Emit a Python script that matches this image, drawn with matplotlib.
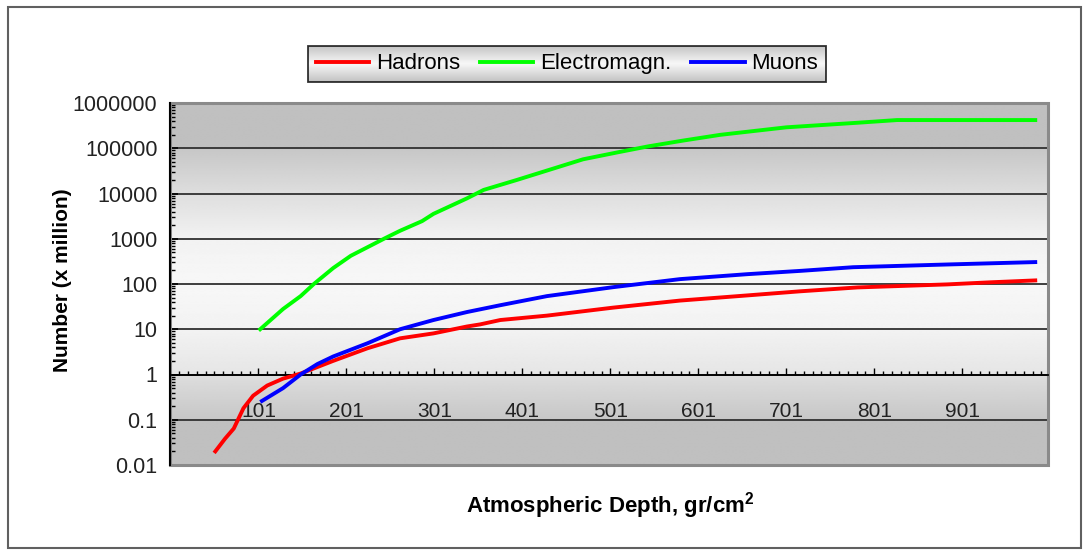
import numpy as np
import matplotlib
matplotlib.use('Agg')
import matplotlib.pyplot as plt
from matplotlib.patches import Rectangle
from matplotlib.ticker import FixedLocator, FuncFormatter, LogLocator, NullFormatter

plt.rcParams['font.family'] = ['Liberation Sans', 'DejaVu Sans']

# values (depth category, number x million)
hadron_depth = [52, 63, 73, 84, 95, 111, 129, 149, 186, 225, 262, 300, 338, 353, 376,
                429, 504, 580, 657, 717, 782, 884, 933, 984]
hadron_num = [0.02, 0.038, 0.064, 0.18, 0.34, 0.57, 0.81, 1.05, 2.0, 3.8, 6.3, 8.1, 11.5,
              12.8, 16, 20, 30, 43, 56, 69, 84, 98, 109, 120]

em_depth = [103, 129, 149, 164, 186, 206, 225, 245, 262, 287, 300, 338, 357, 395, 433,
            470, 509, 544, 584, 626, 701, 781, 827, 984]
em_num = [10, 28, 54, 100, 225, 420, 650, 1030, 1500, 2450, 3550, 7800, 12000, 20000,
          34000, 57000, 81000, 110000, 148000, 198000, 290000, 365000, 420000, 420000]

muon_depth = [105, 129, 149, 168, 186, 225, 262, 300, 338, 376, 429, 504, 580, 657, 717,
              777, 884, 984]
muon_num = [0.26, 0.50, 1.0, 1.7, 2.5, 4.9, 10, 16, 24, 34, 54, 85, 128, 165, 195, 235,
            270, 305]

x_labels = [101, 201, 301, 401, 501, 601, 701, 801, 901]
y_ticks = [0.01, 0.1, 1, 10, 100, 1000, 10000, 100000, 1000000]

fig = plt.figure(figsize=(10.88, 5.51), dpi=100)
ax = fig.add_axes([170/1088, 86/551, 878/1088, 362/551])
ax.set_facecolor('none')
ax.set_zorder(2)

# gradient background of the plot area
pos = [0, 0.125, 0.126, 0.25, 0.251, 0.375, 0.5, 0.625, 0.75, 0.874, 0.875, 1]
shade = [0.75, 0.75, 0.78, 0.87, 0.90, 0.95, 0.97, 0.95, 0.87, 0.78, 0.75, 0.75]
rows = np.interp(np.linspace(1, 0, 600), pos, shade)
ax.imshow(np.repeat(rows[:, None], 2, axis=1), cmap='gray', vmin=0, vmax=1,
          extent=(0, 1, 0, 1), transform=ax.transAxes, aspect='auto',
          interpolation='bilinear', zorder=0)

ax.set_yscale('log')
ax.set_xlim(0.5, 998.5)
ax.set_ylim(0.01, 1000000)

for v in y_ticks[1:-1]:
    ax.axhline(v, color='#303030', lw=1.3, zorder=1)

ax.plot(hadron_depth, hadron_num, color='#ff0000', lw=2.8, label='Hadrons', zorder=3)
ax.plot(em_depth, em_num, color='#00ff00', lw=2.8, label='Electromagn.', zorder=3)
ax.plot(muon_depth, muon_num, color='#0000ff', lw=2.8, label='Muons', zorder=3)

# spines: x axis crosses at 1
for s in ['top', 'right']:
    ax.spines[s].set_visible(False)
ax.spines['bottom'].set_position(('data', 1))
ax.spines['bottom'].set_color('black')
ax.spines['bottom'].set_linewidth(1.3)
ax.spines['left'].set_color('black')
ax.spines['left'].set_linewidth(1.5)
ax.spines['left'].set_zorder(4)
ax.add_patch(Rectangle((0, 0), 1, 1, transform=ax.transAxes, fill=False,
                       edgecolor='#8a8a8a', lw=2.2, clip_on=False, zorder=2))

ax.xaxis.set_major_locator(FixedLocator(x_labels))
ax.xaxis.set_minor_locator(FixedLocator([v for v in range(11, 998, 10) if v not in x_labels]))
ax.tick_params(axis='x', which='major', direction='in', length=5, width=1, pad=20,
               labelsize=15, colors='black', labelcolor='#222222')
ax.tick_params(axis='x', which='minor', direction='in', length=3, width=1)

ax.yaxis.set_major_locator(FixedLocator(y_ticks))
ax.yaxis.set_major_formatter(FuncFormatter(lambda v, p: f'{v:.0f}' if v >= 1 else f'{v:g}'))
ax.yaxis.set_minor_locator(LogLocator(base=10, subs=np.arange(2, 10), numticks=20))
ax.yaxis.set_minor_formatter(NullFormatter())
ax.tick_params(axis='y', which='major', direction='in', length=6, width=1.2, pad=9,
               labelsize=15.5, labelcolor='#222222')
ax.tick_params(axis='y', which='minor', direction='in', length=3.5, width=1)

fig.text(62/1088, 1 - 280/551, 'Number (x million)', rotation=90, ha='center', va='center',
         fontsize=15, fontweight='bold')
fig.text(610/1088, 1 - 506/551, r'Atmospheric Depth, gr/cm$^{\mathregular{2}}$', ha='center',
         va='center', fontsize=16, fontweight='bold')

leg = ax.legend(loc='center', bbox_to_anchor=(567/1088, 1 - 64/551),
                bbox_transform=fig.transFigure, ncol=3, fontsize=16, frameon=True,
                fancybox=False, handlelength=2.4, handletextpad=0.3, columnspacing=0.9,
                borderpad=0.35, borderaxespad=0)
leg.get_frame().set_facecolor('none')
leg.get_frame().set_edgecolor('black')
leg.get_frame().set_linewidth(1.3)
for line in leg.get_lines():
    line.set_linewidth(2.8)

# gradient behind the legend box
fig.canvas.draw()
bb = leg.get_window_extent().transformed(fig.transFigure.inverted())
lax = fig.add_axes([bb.x0, bb.y0, bb.width, bb.height], zorder=1)
lax.axis('off')
lrows = np.interp(np.linspace(0, 1, 100), [0, 0.5, 1], [0.76, 0.97, 0.76])
lax.imshow(np.repeat(lrows[:, None], 2, axis=1), cmap='gray', vmin=0, vmax=1,
           aspect='auto', interpolation='bilinear')

# outer chart border
fig.patches.append(Rectangle((8/1088, 3/551), 1073/1088, 541/551, transform=fig.transFigure,
                             fill=False, edgecolor='#606060', lw=1.5))

fig.savefig('out.png', dpi=100)
